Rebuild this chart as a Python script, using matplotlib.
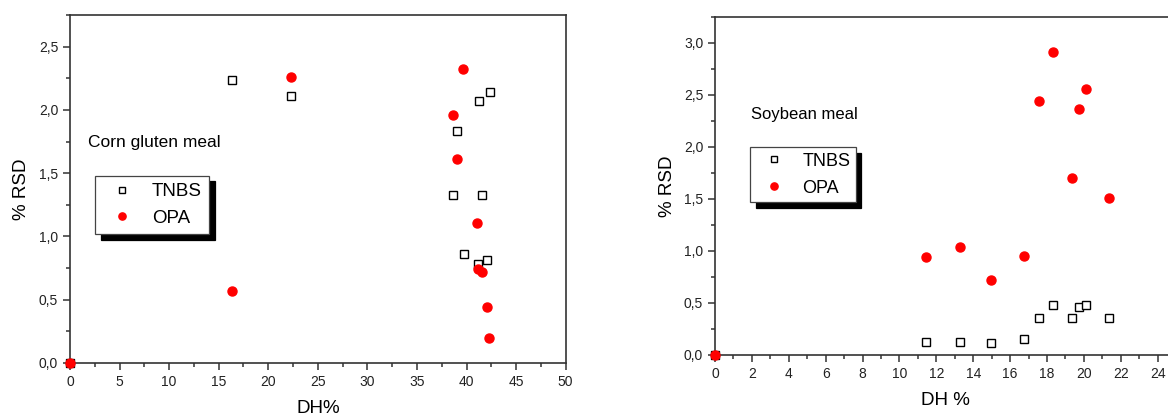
import matplotlib
matplotlib.use('Agg')
import matplotlib.pyplot as plt
from matplotlib.ticker import MultipleLocator, FuncFormatter

plt.rcParams['font.family'] = ['Liberation Sans', 'DejaVu Sans']

# corn gluten meal
cornTnbsX = [0, 16.3, 22.3, 41.3, 42.35, 39.0, 38.6, 41.6, 39.7, 41.2, 42.1]
cornTnbsY = [0, 2.24, 2.11, 2.07, 2.14, 1.83, 1.33, 1.33, 0.86, 0.78, 0.81]
cornOpaX = [0, 16.3, 22.3, 39.6, 38.6, 39.0, 41.1, 41.2, 41.6, 42.1, 42.3]
cornOpaY = [0, 0.57, 2.26, 2.32, 1.96, 1.61, 1.11, 0.745, 0.72, 0.445, 0.195]

# soybean meal
soyX = [0, 11.46, 13.3, 14.96, 16.78, 17.56, 18.3, 19.34, 19.76, 20.12, 21.38]
soyTnbsY = [0, 0.118, 0.12, 0.11, 0.156, 0.356, 0.48, 0.35, 0.46, 0.48, 0.353]
soyOpaY = [0, 0.94, 1.04, 0.716, 0.95, 2.44, 2.91, 1.70, 2.36, 2.56, 1.505]

spineColor = '#333333'
commaFormat = FuncFormatter(lambda v, pos: ('%.1f' % v).replace('.', ','))


def styleAxes(ax, xMajor, xMinor):
    for s in ax.spines.values():
        s.set_color(spineColor)
        s.set_linewidth(1.2)
    ax.xaxis.set_major_locator(MultipleLocator(xMajor))
    ax.xaxis.set_minor_locator(MultipleLocator(xMinor))
    ax.yaxis.set_major_locator(MultipleLocator(0.5))
    ax.yaxis.set_minor_locator(MultipleLocator(0.25))
    ax.yaxis.set_major_formatter(commaFormat)
    ax.tick_params(which='major', direction='out', length=5, width=1.1,
                   color=spineColor, labelsize=10, labelcolor='#222222')
    ax.tick_params(which='minor', direction='out', length=3, width=1.1, color=spineColor)
    ax.tick_params(top=False, right=False, which='both')


def drawSeries(ax, tx, ty, ox, oy):
    ax.plot(tx, ty, linestyle='none', marker='s', markersize=6, markerfacecolor='white',
            markeredgecolor='black', markeredgewidth=1.0, label='TNBS', clip_on=False, zorder=3)
    ax.plot(ox, oy, linestyle='none', marker='o', markersize=6.5, markerfacecolor='red',
            markeredgecolor='red', label='OPA', clip_on=False, zorder=4)


def addLegend(ax, anchor, size, pad, spacing, hLen, hPad):
    leg = ax.legend(loc='upper left', bbox_to_anchor=anchor, borderaxespad=0,
                    fontsize=size, fancybox=False, framealpha=1, edgecolor='#444444',
                    numpoints=1, markerscale=0.8, borderpad=pad, handlelength=hLen,
                    handletextpad=hPad, labelspacing=spacing,
                    shadow={'ox': 4, 'oy': -4, 'color': 'black', 'alpha': 1})
    leg.get_frame().set_linewidth(0.9)


fig = plt.figure(figsize=(11.68, 4.18), dpi=100)

ax1 = fig.add_axes([0.0599, 0.1316, 0.4244, 0.8325])
drawSeries(ax1, cornTnbsX, cornTnbsY, cornOpaX, cornOpaY)
ax1.set_xlim(0, 50)
ax1.set_ylim(0, 2.75)
styleAxes(ax1, 5, 2.5)
ax1.set_xlabel('DH%', fontsize=13.5, labelpad=8)
ax1.set_ylabel('% RSD', fontsize=13.5, labelpad=6)
ax1.text(1.85, 1.74, 'Corn gluten meal', fontsize=12.5, va='center', ha='left')
addLegend(ax1, (0.0504, 0.538), 13.5, 0.4, 0.48, 2.05, 0.58)

ax2 = fig.add_axes([0.6122, 0.1514, 0.3947, 0.8079])
drawSeries(ax2, soyX, soyTnbsY, soyX, soyOpaY)
ax2.set_xlim(0, 25)
ax2.set_ylim(0, 3.25)
styleAxes(ax2, 2, 1)
ax2.set_xlabel('DH %', fontsize=13.5, labelpad=8)
ax2.set_ylabel('% RSD', fontsize=13.5, labelpad=6)
ax2.text(1.95, 2.31, 'Soybean meal', fontsize=12, va='center', ha='left')
addLegend(ax2, (0.0759, 0.614), 13, 0.3, 0.55, 2.0, 0.6)

fig.savefig('out.png', dpi=100)
